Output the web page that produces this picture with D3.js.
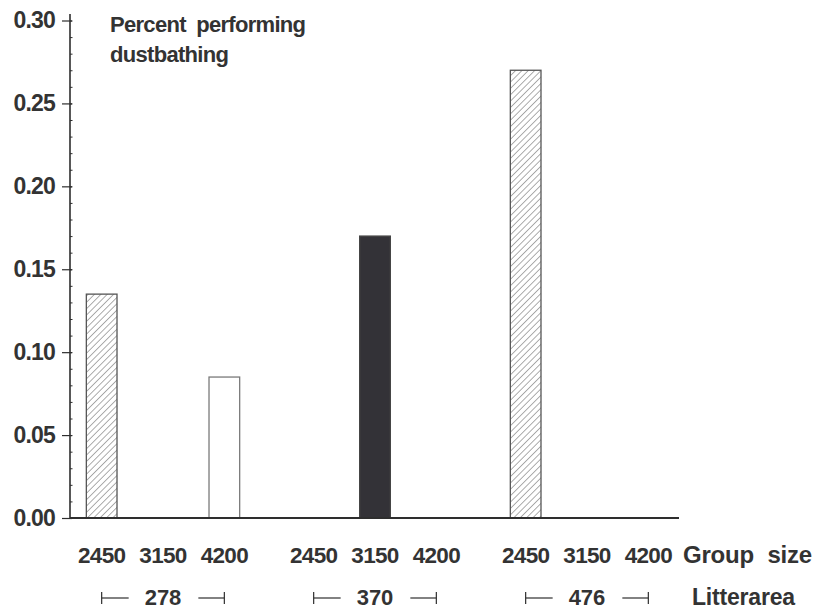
<!DOCTYPE html>
<html>
<head>
<meta charset="utf-8">
<script src="https://cdn.jsdelivr.net/npm/d3@7"></script>
<style>
  html, body { margin: 0; padding: 0; background: #fff; }
  svg { display: block; }
  text { font-family: "Liberation Sans", Arial, Helvetica, sans-serif; font-weight: bold; fill: #333; }
</style>
</head>
<body>
<svg id="chart" width="820" height="609"></svg>
<script>
// ---- data ----
const litterAreas = ["278", "370", "476"];
const groupSizes = ["2450", "3150", "4200"];
const values278 = [0.135, 0, 0.085];
const values370 = [0, 0.17, 0];
const values476 = [0.27, 0, 0];
const yTicks = [0.00, 0.05, 0.10, 0.15, 0.20, 0.25, 0.30];
const titleLines = ["Percent performing", "dustbathing"];
const groupSizeLabel = "Group size";
const litterLabel = "Litterarea";

const seriesByArea = { "278": values278, "370": values370, "476": values476 };
const rows = [];
litterAreas.forEach(a => groupSizes.forEach((g, i) => rows.push({ area: a, size: g, value: seriesByArea[a][i] })));

const svg = d3.select("#chart");
const ink = "#2e2e2e";

// hatch pattern
const defs = svg.append("defs");
const pat = defs.append("pattern")
  .attr("id", "hatch").attr("patternUnits", "userSpaceOnUse")
  .attr("width", 4.5).attr("height", 4.5)
  .attr("patternTransform", "rotate(45)");
pat.append("rect").attr("width", 4.5).attr("height", 4.5).attr("fill", "#fff");
pat.append("line").attr("x1", 0).attr("y1", 0).attr("x2", 0).attr("y2", 4.5)
  .attr("stroke", "#6a6a6a").attr("stroke-width", 1.1);

const fills = { "2450": "url(#hatch)", "3150": "#333237", "4200": "#fff" };
const strokes = { "2450": "#555", "3150": "#444", "4200": "#7a7a7a" };

// scales
const xOuter = d3.scaleBand().domain(litterAreas).range([71, 679]).paddingInner(0.132).paddingOuter(0);
const xInner = d3.scaleBand().domain(groupSizes).range([0, xOuter.bandwidth()]).paddingInner(0.5).paddingOuter(0.25);
const y = d3.scaleLinear().domain([0, 0.30]).range([518, 20.5]);

// y axis: minor ticks (right side)
const yMinor = d3.axisRight(y).tickValues(d3.range(0, 0.3001, 0.01)).tickSize(2.5).tickFormat("");
const gMinor = svg.append("g").attr("transform", "translate(70,0)").call(yMinor);
gMinor.select(".domain").remove();
gMinor.selectAll("line").attr("stroke", ink).attr("stroke-width", 1);

// y axis: major ticks with labels
const yAxis = d3.axisLeft(y).tickValues(yTicks).tickSize(8).tickPadding(7).tickFormat(d3.format(".2f"));
const gy = svg.append("g").attr("transform", "translate(70,0)").call(yAxis);
gy.select(".domain").remove();
gy.selectAll(".tick line").attr("stroke", ink).attr("stroke-width", 1.2).attr("x2", -8).attr("x1", 2);
gy.selectAll(".tick text").attr("font-size", 23).attr("fill", "#333").style("letter-spacing", "-0.8px")
  .attr("font-family", "Liberation Sans, Arial, sans-serif").attr("font-weight", "bold");

// y axis line
svg.append("line").attr("x1", 70).attr("x2", 70).attr("y1", 14).attr("y2", y(0) + 1)
  .attr("stroke", ink).attr("stroke-width", 1.6);

// bars
svg.append("g").selectAll("rect").data(rows.filter(d => d.value > 0)).join("rect")
  .attr("x", d => xOuter(d.area) + xInner(d.size))
  .attr("width", xInner.bandwidth())
  .attr("y", d => y(d.value))
  .attr("height", d => y(0) - y(d.value))
  .attr("fill", d => fills[d.size])
  .attr("stroke", d => strokes[d.size])
  .attr("stroke-width", 1.3);

// x axis line
svg.append("line").attr("x1", 70).attr("x2", xOuter.range()[1]).attr("y1", y(0)).attr("y2", y(0))
  .attr("stroke", ink).attr("stroke-width", 2);

// group size labels
svg.append("g").selectAll("text").data(rows).join("text")
  .attr("x", d => xOuter(d.area) + xInner(d.size) + xInner.bandwidth() / 2)
  .attr("y", 563)
  .attr("text-anchor", "middle")
  .attr("font-size", 22.5)
  .style("letter-spacing", "-0.7px")
  .text(d => d.size);

svg.append("text").attr("x", 683).attr("y", 563).attr("font-size", 24)
  .style("letter-spacing", "-0.2px").style("word-spacing", "7px").text(groupSizeLabel);

// litter area brackets
const first = groupSizes[0], last = groupSizes[groupSizes.length - 1];
const br = svg.append("g").selectAll("g").data(litterAreas).join("g");
br.each(function(a) {
  const g = d3.select(this);
  const x1 = xOuter(a) + xInner(first) + xInner.bandwidth() / 2;
  const x2 = xOuter(a) + xInner(last) + xInner.bandwidth() / 2;
  const cx = (x1 + x2) / 2;
  const yl = 598;
  g.append("line").attr("x1", x1).attr("x2", x1 + 27).attr("y1", yl).attr("y2", yl).attr("stroke", ink).attr("stroke-width", 1.2);
  g.append("line").attr("x1", x1).attr("x2", x1).attr("y1", yl - 6).attr("y2", yl + 6).attr("stroke", ink).attr("stroke-width", 1.2);
  g.append("line").attr("x1", x2 - 26).attr("x2", x2).attr("y1", yl).attr("y2", yl).attr("stroke", ink).attr("stroke-width", 1.2);
  g.append("line").attr("x1", x2).attr("x2", x2).attr("y1", yl - 6).attr("y2", yl + 6).attr("stroke", ink).attr("stroke-width", 1.2);
  g.append("text").attr("x", cx).attr("y", 605).attr("text-anchor", "middle").attr("font-size", 22)
    .style("letter-spacing", "0px").text(a);
});

svg.append("text").attr("x", 692).attr("y", 605).attr("font-size", 23)
  .style("letter-spacing", "-0.2px").text(litterLabel);

// title
svg.append("text").attr("x", 110).attr("y", 32).attr("font-size", 22)
  .style("letter-spacing", "-0.7px").style("word-spacing", "5px")
  .selectAll("tspan").data(titleLines).join("tspan")
  .attr("x", 110).attr("dy", (d, i) => i === 0 ? 0 : 30).text(d => d);
</script>
</body>
</html>
